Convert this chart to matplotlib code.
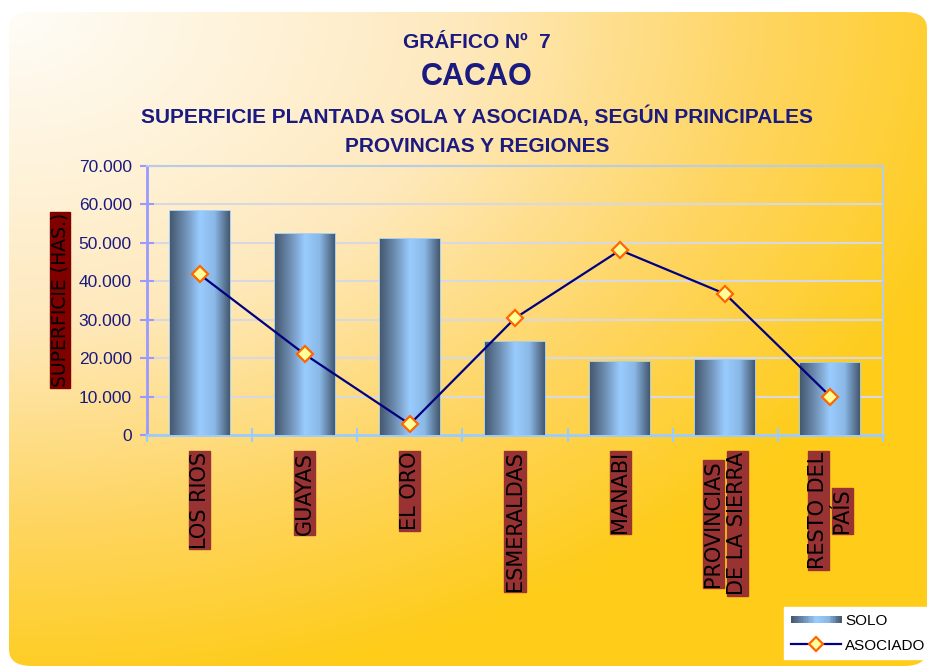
import numpy as np
import matplotlib
matplotlib.use("Agg")
import matplotlib.pyplot as plt
import matplotlib.transforms as mtransforms
from matplotlib.colors import LinearSegmentedColormap
from matplotlib.patches import FancyBboxPatch, Rectangle
from matplotlib.lines import Line2D
from matplotlib.legend_handler import HandlerBase
from matplotlib.textpath import TextPath
from matplotlib.font_manager import FontProperties

# data (hectares)
regiones = ["LOS RIOS", "GUAYAS", "EL ORO", "ESMERALDAS", "MANABI",
            "PROVINCIAS\nDE LA SIERRA", "RESTO DEL\nPAÍS"]
solo = [58400, 52200, 51000, 24200, 19000, 19500, 18800]
asociado = [41800, 21000, 2800, 30400, 48100, 36700, 10000]
yticks = [0, 10000, 20000, 30000, 40000, 50000, 60000, 70000]
ytick_labels = ["0", "10.000", "20.000", "30.000", "40.000", "50.000", "60.000", "70.000"]

navy = "#1a1a80"
bar_cmap = LinearSegmentedColormap.from_list(
    "cyl", ["#465a72", "#6f8fb3", "#99ccff", "#8ab8e6", "#465a72"])
bg_cmap = LinearSegmentedColormap.from_list(
    "bg", [(0, "#fffdf8"), (0.45, "#fee9bd"), (0.75, "#fed560"), (1, "#ffcc1a")])

fig = plt.figure(figsize=(9.27, 6.66), dpi=100)
fig.patch.set_facecolor("white")

# background gradient panel with rounded corners
bg = fig.add_axes([9 / 927, 0, 918 / 927, 654 / 666], zorder=-5)
bg.set_axis_off()
xx, yy = np.meshgrid(np.linspace(0, 1, 300), np.linspace(0, 1, 220))
t = np.clip(np.sqrt((xx * 1.0) ** 2 + (yy * 1.05) ** 2) / 1.1, 0, 1)
im = bg.imshow(t, cmap=bg_cmap, extent=(0, 1, 1, 0), aspect="auto", vmin=0, vmax=1)
bg.set_xlim(0, 1)
bg.set_ylim(1, 0)
clip = FancyBboxPatch((0, 0), 1, 1, boxstyle="round,pad=0,rounding_size=0.025",
                      transform=bg.transAxes, facecolor="none", edgecolor="none")
bg.add_patch(clip)
im.set_clip_path(clip)

# titles
cx = 477 / 927
fig.text(cx, 1 - 42 / 666, "GRÁFICO Nº  7", ha="center", va="center",
         fontsize=15, fontweight="bold", color=navy, family="Liberation Sans")
fig.text(cx, 1 - 77 / 666, "CACAO", ha="center", va="center",
         fontsize=22, fontweight="bold", color=navy, family="Liberation Sans")
fig.text(cx, 1 - 116 / 666, "SUPERFICIE PLANTADA SOLA Y ASOCIADA, SEGÚN PRINCIPALES",
         ha="center", va="center", fontsize=15, fontweight="bold", color=navy,
         family="Liberation Sans")
fig.text(cx, 1 - 146 / 666, "PROVINCIAS Y REGIONES", ha="center", va="center",
         fontsize=15, fontweight="bold", color=navy, family="Liberation Sans")

ax = fig.add_axes([147 / 927, 1 - 435 / 666, 736 / 927, 269 / 666])
ax.set_facecolor("none")
x = np.arange(len(regiones))

bars = ax.bar(x, solo, width=0.57, color="#7fa8d8", edgecolor="#99ccff",
              linewidth=1.2, zorder=3)
grad = np.linspace(0, 1, 64).reshape(1, -1)
for b in bars:
    g = ax.imshow(grad, cmap=bar_cmap, aspect="auto", zorder=3.5,
                  extent=(b.get_x(), b.get_x() + b.get_width(), 0, b.get_height()))
    g.set_clip_path(b)

ax.plot(x, asociado, color="#000080", lw=1.6, marker="D", ms=8,
        mfc="#ffff99", mec="#ff6600", mew=1.6, zorder=5)

ax.set_xlim(-0.5, len(regiones) - 0.5)
ax.set_ylim(0, 70000)
ax.set_yticks(yticks)
ax.set_yticklabels(ytick_labels, color=navy, fontsize=12.5, family="Liberation Sans")
ax.yaxis.grid(True, color="#d8d8e0", lw=1.5, zorder=0)
ax.set_axisbelow(True)

# category labels: one dark red box per line, stacked side by side
ax.set_xticks(x)
ax.set_xticklabels([])
ax.tick_params(axis="x", which="major", length=0)
lab_prop = FontProperties(family="DejaVu Sans", size=15)
px = 100 / 72
for i, lab in enumerate(regiones):
    lines = lab.split("\n")
    widths = [TextPath((0, 0), s, prop=lab_prop).get_extents().width * px for s in lines]
    lmax = max(widths)
    n = len(lines)
    for j, s in enumerate(lines):
        dx = (j - (n - 1) / 2) * 24
        dy = -(18 + lmax / 2)
        tr = mtransforms.blended_transform_factory(ax.transData, ax.transAxes) + \
            mtransforms.ScaledTranslation(dx / 100, dy / 100, fig.dpi_scale_trans)
        ax.text(i, 0, s, transform=tr, rotation=90, ha="center", va="center",
                fontproperties=lab_prop, color="black", clip_on=False,
                bbox=dict(facecolor="#993333", edgecolor="#993333", pad=0.4))

ax.set_xticks(np.arange(len(regiones) + 1) - 0.5, minor=True)
ax.tick_params(axis="x", which="minor", length=10, direction="inout",
               color="#99ccff", width=1.5)
ax.tick_params(axis="y", length=10, direction="inout", color="#9999ff", width=1.5, pad=6)

ax.spines["left"].set_color("#9999ff")
ax.spines["left"].set_linewidth(2)
ax.spines["bottom"].set_color("#99ccff")
ax.spines["bottom"].set_linewidth(2)
for s in ("top", "right"):
    ax.spines[s].set_color("#b8cce4")
    ax.spines[s].set_linewidth(1.5)

fig.text(60 / 927, 1 - 300 / 666, "SUPERFICIE (HAS.)", rotation=90, ha="center",
         va="center", fontsize=13.5, color="black", family="DejaVu Sans",
         bbox=dict(facecolor="#800000", edgecolor="#800000", pad=0.6))


class GradientHandler(HandlerBase):
    def create_artists(self, legend, orig_handle, xdescent, ydescent,
                       width, height, fontsize, trans):
        n = 30
        arts = []
        for i in range(n):
            c = bar_cmap(i / (n - 1))
            arts.append(Rectangle((-xdescent + width * i / n, -ydescent + height * 0.15),
                                  width / n + 0.3, height * 0.7, facecolor=c,
                                  edgecolor="none", transform=trans))
        return arts


solo_handle = Rectangle((0, 0), 1, 1)
aso_handle = Line2D([], [], color="#000080", lw=1.6, marker="D", ms=7,
                    mfc="#ffff99", mec="#ff6600", mew=1.6)
leg = fig.legend([solo_handle, aso_handle], ["SOLO", "ASOCIADO"],
                 handler_map={Rectangle: GradientHandler()},
                 loc="upper left", bbox_to_anchor=(784 / 927, 1 - 607 / 666),
                 frameon=True, fancybox=False, framealpha=1, edgecolor="white",
                 facecolor="white", prop={"family": "Liberation Sans", "size": 11},
                 handlelength=3.3, handletextpad=0.25, borderpad=0.45,
                 labelspacing=0.7, borderaxespad=0)

fig.savefig("out.png", dpi=100)
